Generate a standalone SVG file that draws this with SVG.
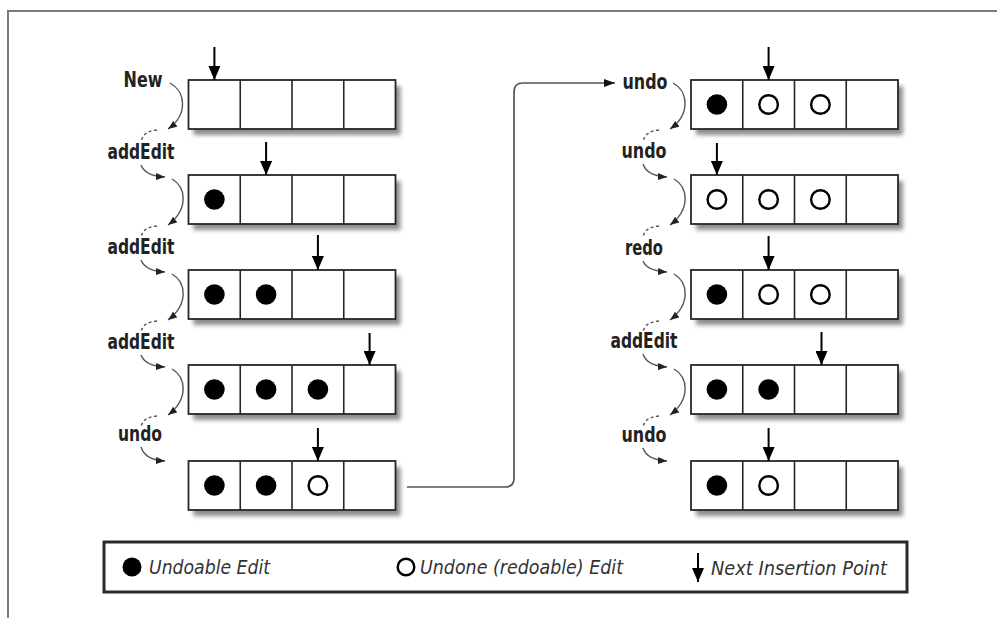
<svg xmlns="http://www.w3.org/2000/svg" xmlns:xlink="http://www.w3.org/1999/xlink" width="997" height="618" viewBox="0 0 997 618">
<style>
.frame{fill:none;stroke:#7a7a7a;stroke-width:2}
.cell{fill:#fff;stroke:#262626;stroke-width:1.8}
.div{fill:none;stroke:#262626;stroke-width:1.6}
.shadow{fill:#8e8e8e}
.full{fill:#000}
.hollow{fill:#fff;stroke:#000;stroke-width:2.4}
.ins{fill:none;stroke:#000;stroke-width:2;marker-end:url(#insHead)}
.lbl{font-family:"Liberation Sans Narrow","DejaVu Sans Condensed","Liberation Sans",sans-serif;font-weight:bold;font-size:22px;fill:#222;text-anchor:middle}
.curveA{fill:none;stroke:#555;stroke-width:1.4;marker-end:url(#smallHead)}
.dash{fill:none;stroke:#555;stroke-width:1.4;stroke-dasharray:3 2.5}
.conn{fill:none;stroke:#555;stroke-width:1.7;marker-end:url(#connHead)}
.leg{font-family:"Liberation Sans Narrow","DejaVu Sans Condensed","Liberation Sans",sans-serif;font-style:italic;font-size:20px;fill:#333}
</style>
<defs>
<filter id="sh" x="-10%" y="-30%" width="125%" height="170%"><feGaussianBlur stdDeviation="2.2"/></filter>
<marker id="insHead" viewBox="0 0 14 12" refX="14" refY="6" markerWidth="14" markerHeight="12" orient="auto" markerUnits="userSpaceOnUse"><path d="M0,0L14,6L0,12z" fill="#000"/></marker>
<marker id="smallHead" viewBox="0 0 9 7" refX="9" refY="3.5" markerWidth="9" markerHeight="7" orient="auto" markerUnits="userSpaceOnUse"><path d="M0,0L9,3.5L0,7z" fill="#222"/></marker>
<marker id="connHead" viewBox="0 0 11 8" refX="11" refY="4" markerWidth="11" markerHeight="8" orient="auto" markerUnits="userSpaceOnUse"><path d="M0,0L11,4L0,8z" fill="#111"/></marker>
<g id="boxT">
<rect class="shadow" x="5" y="6" width="207" height="49" filter="url(#sh)"/>
<rect class="cell" x="0" y="0" width="207" height="49"/>
<path class="div" d="M51.75 0V49M103.5 0V49M155.25 0V49"/>
</g>
</defs>

<rect width="997" height="618" fill="#fff"/>
<path class="frame" d="M8 618V11H997"/>

<!-- Left column -->
<g id="L1" transform="translate(188.5,80)">
<use xlink:href="#boxT"/>
<path class="ins" d="M25.9 -33V0"/>
</g>
<g id="L2" transform="translate(188.5,175)">
<use xlink:href="#boxT"/>
<circle class="full" cx="25.9" cy="24.5" r="10.3"/>
<path class="ins" d="M77.6 -33V0"/>
</g>
<g id="L3" transform="translate(188.5,270)">
<use xlink:href="#boxT"/>
<circle class="full" cx="25.9" cy="24.5" r="10.3"/>
<circle class="full" cx="77.6" cy="24.5" r="10.3"/>
<path class="ins" d="M129.4 -35V0"/>
</g>
<g id="L4" transform="translate(188.5,365)">
<use xlink:href="#boxT"/>
<circle class="full" cx="25.9" cy="24.5" r="10.3"/>
<circle class="full" cx="77.6" cy="24.5" r="10.3"/>
<circle class="full" cx="129.4" cy="24.5" r="10.3"/>
<path class="ins" d="M181.1 -32V0"/>
</g>
<g id="L5" transform="translate(188.5,461)">
<use xlink:href="#boxT"/>
<circle class="full" cx="25.9" cy="24.5" r="10.3"/>
<circle class="full" cx="77.6" cy="24.5" r="10.3"/>
<circle class="hollow" cx="129.4" cy="24.5" r="9.3"/>
<path class="ins" d="M129.4 -33V0"/>
</g>

<!-- Right column -->
<g id="R1" transform="translate(691,80)">
<use xlink:href="#boxT"/>
<circle class="full" cx="25.9" cy="24.5" r="10.3"/>
<circle class="hollow" cx="77.6" cy="24.5" r="9.3"/>
<circle class="hollow" cx="129.4" cy="24.5" r="9.3"/>
<path class="ins" d="M77.6 -33V0"/>
</g>
<g id="R2" transform="translate(691,175)">
<use xlink:href="#boxT"/>
<circle class="hollow" cx="25.9" cy="24.5" r="9.3"/>
<circle class="hollow" cx="77.6" cy="24.5" r="9.3"/>
<circle class="hollow" cx="129.4" cy="24.5" r="9.3"/>
<path class="ins" d="M25.9 -32V0"/>
</g>
<g id="R3" transform="translate(691,270)">
<use xlink:href="#boxT"/>
<circle class="full" cx="25.9" cy="24.5" r="10.3"/>
<circle class="hollow" cx="77.6" cy="24.5" r="9.3"/>
<circle class="hollow" cx="129.4" cy="24.5" r="9.3"/>
<path class="ins" d="M77.6 -34V0"/>
</g>
<g id="R4" transform="translate(691,365)">
<use xlink:href="#boxT"/>
<circle class="full" cx="25.9" cy="24.5" r="10.3"/>
<circle class="full" cx="77.6" cy="24.5" r="10.3"/>
<path class="ins" d="M130.5 -33V0"/>
</g>
<g id="R5" transform="translate(691,461)">
<use xlink:href="#boxT"/>
<circle class="full" cx="25.9" cy="24.5" r="10.3"/>
<circle class="hollow" cx="77.6" cy="24.5" r="9.3"/>
<path class="ins" d="M77.6 -33V0"/>
</g>

<!-- Labels -->
<g id="labels">
<text class="lbl" x="143" y="87" textLength="39" lengthAdjust="spacingAndGlyphs">New</text>
<text class="lbl" x="141" y="159" textLength="67" lengthAdjust="spacingAndGlyphs">addEdit</text>
<text class="lbl" x="141" y="254" textLength="67" lengthAdjust="spacingAndGlyphs">addEdit</text>
<text class="lbl" x="141" y="349" textLength="67" lengthAdjust="spacingAndGlyphs">addEdit</text>
<text class="lbl" x="140" y="441" textLength="44" lengthAdjust="spacingAndGlyphs">undo</text>
<text class="lbl" x="645" y="89" textLength="45" lengthAdjust="spacingAndGlyphs">undo</text>
<text class="lbl" x="644" y="158" textLength="45" lengthAdjust="spacingAndGlyphs">undo</text>
<text class="lbl" x="644" y="255" textLength="38" lengthAdjust="spacingAndGlyphs">redo</text>
<text class="lbl" x="644" y="348" textLength="67" lengthAdjust="spacingAndGlyphs">addEdit</text>
<text class="lbl" x="644" y="442" textLength="45" lengthAdjust="spacingAndGlyphs">undo</text>
</g>

<!-- Connectors -->
<g id="connectors">
<path class="curveA" d="M170 83C185 91 189 114 168 129"/>
<path class="dash" d="M157 130Q143 131 141 142"/>
<path class="curveA" d="M141 165Q145 176 165 177"/>
<path class="curveA" d="M172 179C186 187 189 209 168 225"/>
<path class="dash" d="M157 226Q143 227 141 237"/>
<path class="curveA" d="M141 260Q145 271 165 272"/>
<path class="curveA" d="M172 274C186 282 189 304 168 320"/>
<path class="dash" d="M157 321Q143 322 141 332"/>
<path class="curveA" d="M141 355Q145 366 165 367"/>
<path class="curveA" d="M172 369C186 377 189 399 168 415"/>
<path class="dash" d="M157 416Q143 417 141 427"/>
<path class="curveA" d="M141 447Q145 460 165 461"/>
<path class="curveA" d="M673 83C688 91 691 114 670 129"/>
<path class="dash" d="M659 130Q645 131 643 142"/>
<path class="curveA" d="M643 164Q647 176 667 177"/>
<path class="curveA" d="M674 179C688 187 691 209 670 225"/>
<path class="dash" d="M659 226Q645 227 643 237"/>
<path class="curveA" d="M643 261Q647 271 667 272"/>
<path class="curveA" d="M674 274C688 282 691 304 670 320"/>
<path class="dash" d="M659 321Q645 322 643 332"/>
<path class="curveA" d="M643 354Q647 366 667 367"/>
<path class="curveA" d="M674 369C688 377 691 399 670 415"/>
<path class="dash" d="M659 416Q645 417 643 427"/>
<path class="curveA" d="M643 448Q647 460 667 461"/>
<path class="conn" d="M407 487H505Q514 487 514 478V92Q514 83 523 83H615"/>
</g>

<!-- Legend -->
<g id="legend">
<rect x="104" y="542" width="803" height="50" fill="#fff" stroke="#2a2a2a" stroke-width="3"/>
<circle class="full" cx="132" cy="567" r="9.5"/>
<text class="leg" x="149" y="574" textLength="121" lengthAdjust="spacingAndGlyphs">Undoable Edit</text>
<circle class="hollow" cx="406" cy="567" r="8.3"/>
<text class="leg" x="420" y="574" textLength="203" lengthAdjust="spacingAndGlyphs">Undone (redoable) Edit</text>
<path class="ins" d="M698 553V582"/>
<text class="leg" x="711" y="575" textLength="176" lengthAdjust="spacingAndGlyphs">Next Insertion Point</text>
</g>
</svg>
